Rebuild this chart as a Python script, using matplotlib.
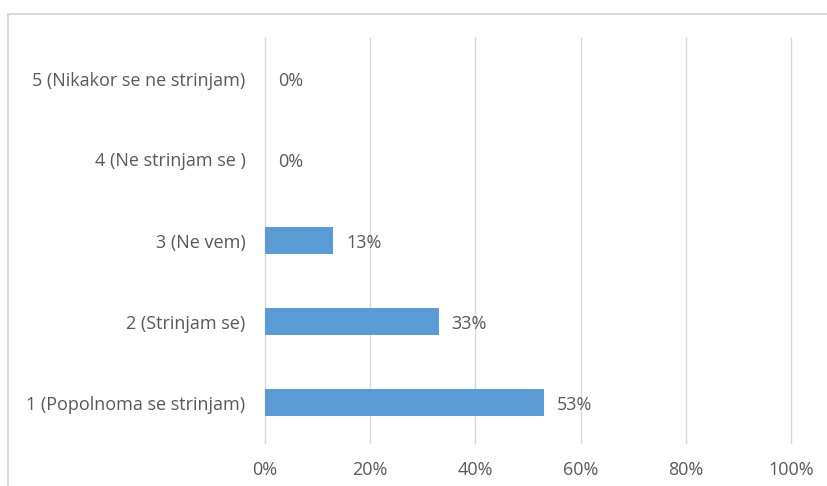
import matplotlib.pyplot as plt
from matplotlib.patches import Rectangle

kategorije = ["1 (Popolnoma se strinjam)", "2 (Strinjam se)", "3 (Ne vem)",
              "4 (Ne strinjam se )", "5 (Nikakor se ne strinjam)"]
deleži = [0.53, 0.33, 0.13, 0.0, 0.0]
oznake = ["53%", "33%", "13%", "0%", "0%"]
xticks = [0, 0.2, 0.4, 0.6, 0.8, 1.0]
xtick_labels = ["0%", "20%", "40%", "60%", "80%", "100%"]

plt.rcParams['font.family'] = ['Open Sans', 'DejaVu Sans']
siva = '#595959'

fig = plt.figure(figsize=(8.28, 4.86), dpi=100)
ax = fig.add_axes([265/828, 1-443/486, (791-265)/828, (443-38)/486])

# okvir okrog grafa
fig.patches.append(Rectangle((8/828, -0.1), 1.0, 1.1 - 14/486, transform=fig.transFigure,
                             fill=False, edgecolor='#D9D9D9', linewidth=1.5))

y = range(len(kategorije))
ax.barh(y, deleži, height=0.34, color='#5B9BD5', zorder=3)
for i, (v, t) in enumerate(zip(deleži, oznake)):
    ax.text(v + 0.025, i - 0.03, t, va='center', ha='left', fontsize=13, color=siva)

ax.set_xlim(0, 1.0)
ax.set_ylim(-0.5, 4.5)
ax.set_xticks(xticks)
ax.set_xticklabels(xtick_labels)
ax.set_yticks(list(y))
ax.set_yticklabels(kategorije)
ax.tick_params(axis='both', length=0, labelsize=13, labelcolor=siva)
ax.tick_params(axis='y', pad=14)
ax.tick_params(axis='x', pad=13)
ax.grid(axis='x', color='#D9D9D9', linewidth=1, zorder=0)
for gl in ax.get_xgridlines():
    gl.set_clip_on(False)
for s in ax.spines.values():
    s.set_visible(False)

fig.savefig('out.png', dpi=100)
